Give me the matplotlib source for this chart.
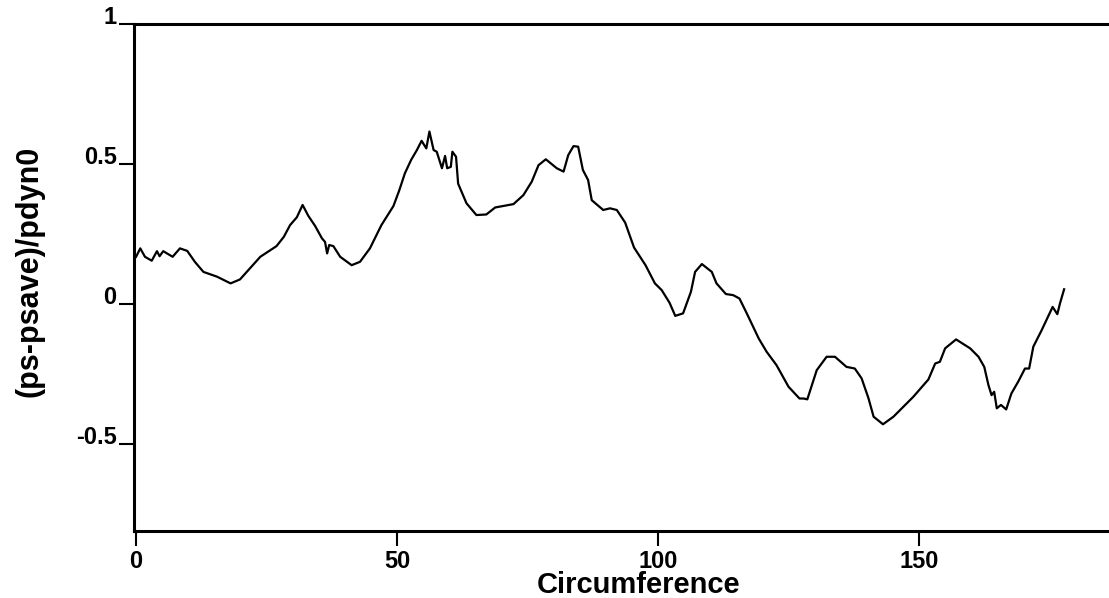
import numpy as np
import matplotlib
matplotlib.use('Agg')
import matplotlib.pyplot as plt

plt.rcParams['font.family'] = ['Liberation Sans', 'DejaVu Sans']
plt.rcParams['font.weight'] = 'bold'

# values
circ = np.array([
    0.0, 0.8, 1.7, 3.0, 4.0, 4.5, 5.2, 7.0, 8.4, 9.8, 11.3, 12.9, 15.5, 18.1,
    19.9, 21.2, 23.8, 26.9, 28.3, 29.5, 30.8, 31.9, 33.0, 34.3, 35.6, 36.2,
    36.6, 37.0, 37.8, 39.1, 41.3, 42.9, 44.8, 47.0, 49.3, 50.4, 51.5, 52.7,
    53.8, 54.7, 55.6, 56.2, 57.0, 57.6, 58.6, 59.2, 59.6, 60.3, 60.6, 61.3,
    61.7, 63.3, 65.2, 67.1, 68.8, 70.3, 72.3, 74.2, 75.8, 77.1, 78.5, 80.6,
    81.9, 82.8, 83.8, 84.7, 85.6, 86.6, 87.3, 89.5, 90.8, 92.1, 93.7, 95.4,
    97.6, 99.4, 100.7, 102.2, 103.3, 104.8, 106.3, 107.1, 108.4, 110.3, 111.2,
    113.0, 114.4, 115.6, 117.0, 119.3, 120.8, 122.7, 125.0, 127.1, 127.9,
    128.6, 130.4, 132.3, 133.9, 136.1, 137.7, 139.0, 140.3, 141.3, 143.1,
    145.1, 148.9, 151.8, 153.1, 154.0, 155.0, 157.1, 159.8, 161.4, 162.5,
    163.3, 163.9, 164.4, 164.9, 165.7, 166.7, 167.7, 169.0, 170.3, 171.1,
    171.9, 173.5, 175.6, 176.5, 177.0, 177.8,
])
dp = np.array([
    0.169, 0.199, 0.169, 0.155, 0.189, 0.171, 0.189, 0.169, 0.199, 0.190,
    0.150, 0.115, 0.098, 0.074, 0.088, 0.115, 0.169, 0.207, 0.240, 0.282,
    0.310, 0.354, 0.315, 0.279, 0.235, 0.222, 0.181, 0.211, 0.207, 0.169,
    0.139, 0.151, 0.199, 0.282, 0.350, 0.405, 0.467, 0.515, 0.550, 0.583,
    0.556, 0.616, 0.550, 0.544, 0.485, 0.529, 0.485, 0.490, 0.544, 0.526,
    0.430, 0.360, 0.318, 0.320, 0.345, 0.350, 0.357, 0.389, 0.437, 0.496,
    0.517, 0.485, 0.473, 0.532, 0.564, 0.562, 0.479, 0.443, 0.371, 0.336,
    0.342, 0.336, 0.291, 0.202, 0.139, 0.074, 0.050, 0.005, -0.042, -0.033,
    0.044, 0.115, 0.143, 0.115, 0.074, 0.036, 0.032, 0.020, -0.033, -0.123,
    -0.170, -0.218, -0.295, -0.337, -0.337, -0.340, -0.236, -0.188, -0.188,
    -0.224, -0.230, -0.265, -0.335, -0.402, -0.429, -0.402, -0.331, -0.269,
    -0.212, -0.206, -0.158, -0.126, -0.158, -0.188, -0.224, -0.289, -0.325,
    -0.313, -0.372, -0.360, -0.376, -0.319, -0.277, -0.230, -0.230, -0.152,
    -0.093, -0.010, -0.036, 0.002, 0.053,
])

xticks = [0, 50, 100, 150]
yticks = [-0.5, 0, 0.5, 1]
ytick_labels = ['-0.5', '0', '0.5', '1']

fig = plt.figure(figsize=(11.09, 5.98), dpi=100)
ax = fig.add_axes([134 / 1109, 67 / 598, 975 / 1109, 507 / 598])

ax.plot(circ, dp, color='black', linewidth=1.6)

ax.set_xlim(-0.4, 186.4)
ax.set_ylim(-0.81, 1.0)

ax.set_xticks(xticks)
ax.set_xticklabels([str(t) for t in xticks])
ax.set_yticks(yticks)
ax.set_yticklabels(ytick_labels)

ax.spines['right'].set_visible(False)
for s in ['left', 'bottom', 'top']:
    ax.spines[s].set_linewidth(2.2)

ax.tick_params(axis='x', direction='out', length=11, width=1.5, pad=2.5,
               labelsize=17)
ax.tick_params(axis='y', direction='out', length=11, width=1.5, pad=1.5,
               labelsize=17)
for lbl in ax.get_yticklabels():
    lbl.set_verticalalignment('baseline')
    lbl.set_fontweight('bold')
for lbl in ax.get_xticklabels():
    lbl.set_fontweight('bold')

ax.set_xlabel('Circumference', fontsize=21, fontweight='bold')
ax.xaxis.label.set_verticalalignment('baseline')
ax.xaxis.set_label_coords(0.518, -0.123)
ax.set_ylabel('(ps-psave)/pdyn0', fontsize=22, fontweight='bold')
ax.yaxis.label.set_verticalalignment('center')
ax.yaxis.set_label_coords(-0.107, 0.513)

fig.savefig('out.png', dpi=100)
